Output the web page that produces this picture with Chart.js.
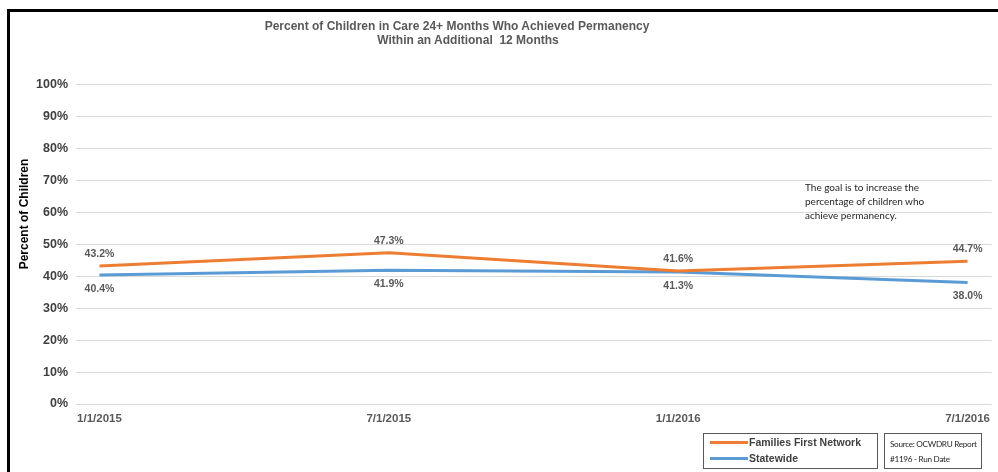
<!DOCTYPE html>
<html>
<head>
<meta charset="utf-8">
<title>Permanency Within an Additional 12 Months</title>
<script src="https://cdn.jsdelivr.net/npm/chart.js@4.4.1/dist/chart.umd.min.js"></script>
<style>
  html, body { margin: 0; padding: 0; background: #fff; }
  #wrap { position: relative; width: 998px; height: 472px; overflow: hidden; font-family: "Liberation Sans", Arial, sans-serif; }
  #frame { position: absolute; left: 7px; top: 9px; width: 1100px; height: 600px; border-left: 3px solid #000; border-top: 3px solid #000; }
  #chart { position: absolute; left: 0; top: 0; }
  .title { position: absolute; transform: translateX(-50%); white-space: nowrap; font-weight: bold; font-size: 12px; color: #595959; line-height: 14px; text-align: center; }
  #ytitle { position: absolute; left: 24px; top: 214px; transform: translate(-50%, -50%) rotate(-90deg); white-space: nowrap; font-weight: bold; font-size: 12px; color: #000; }
  #note { position: absolute; left: 805px; top: 180px; font-family: Lato, "Open Sans", sans-serif; font-size: 10px; line-height: 14px; color: #262626; }
  .box { position: absolute; top: 433px; height: 36px; border: 1px solid #595959; background: #fff; box-sizing: border-box; }
  #legend { left: 703px; width: 175px; }
  .leg-row { position: absolute; left: 6px; height: 14px; font-weight: bold; font-size: 10.5px; color: #404040; white-space: nowrap; }
  .leg-row i { display: inline-block; width: 38px; height: 3px; vertical-align: middle; margin-right: 1px; position: relative; top: -1px; }
  #source { left: 884px; width: 98px; font-family: Lato, "Open Sans", sans-serif; font-size: 8.2px; line-height: 15px; color: #262626; padding: 3px 0 0 5px; white-space: nowrap; letter-spacing: -0.3px; }
</style>
</head>
<body>
<div id="wrap">
  <canvas id="chart" width="998" height="472"></canvas>
  <div id="frame"></div>
  <div class="title" style="top:19px; left:457px">Percent of Children in Care 24+ Months Who Achieved Permanency</div>
  <div class="title" style="top:33px; left:468px">Within an Additional&nbsp; 12 Months</div>
  <div id="ytitle">Percent of Children</div>
  <div id="note">The goal is to increase the<br>percentage of children who<br>achieve permanency.</div>
  <div id="legend" class="box">
    <div class="leg-row" style="top:2px"><i style="background:#ED7D31"></i>Families First Network</div>
    <div class="leg-row" style="top:18px"><i style="background:#5B9BD5"></i>Statewide</div>
  </div>
  <div id="source" class="box">Source: OCWDRU Report<br>#1196 - Run Date</div>
</div>

<script>
// ── Data ───────────────────────────────────
var dates       = ['1/1/2015', '7/1/2015', '1/1/2016', '7/1/2016'];
var ffnValues   = [43.2, 47.3, 41.6, 44.7];
var stateValues = [40.4, 41.9, 41.3, 38.0];
var yTicks      = [0, 10, 20, 30, 40, 50, 60, 70, 80, 90, 100];

var ORANGE = '#ED7D31';
var BLUE   = '#5B9BD5';

function toPoints(arr) {
  return arr.map(function(v, i) { return { x: i, y: v }; });
}

// ── Data label plugin (no datalabels lib here) ──
var valueLabels = {
  id: 'valueLabels',
  afterDatasetsDraw: function(chart) {
    var ctx = chart.ctx;
    ctx.save();
    ctx.font = 'bold 10.5px "Liberation Sans", Arial, sans-serif';
    ctx.fillStyle = '#595959';
    ctx.textAlign = 'center';
    ctx.textBaseline = 'middle';
    chart.data.datasets.forEach(function(ds, di) {
      var meta = chart.getDatasetMeta(di);
      var dy = ds.labelAbove ? -12 : 14;
      meta.data.forEach(function(pt, i) {
        ctx.fillText(ds.data[i].y.toFixed(1) + '%', pt.x, pt.y + dy);
      });
    });
    ctx.restore();
  }
};

// ── Chart ──────────────────────────────────
new Chart(document.getElementById('chart'), {
  type: 'line',
  data: {
    datasets: [
      { label: 'Families First Network', data: toPoints(ffnValues), borderColor: ORANGE, backgroundColor: ORANGE,
        borderWidth: 3, pointRadius: 0, tension: 0, labelAbove: true },
      { label: 'Statewide', data: toPoints(stateValues), borderColor: BLUE, backgroundColor: BLUE,
        borderWidth: 3, pointRadius: 0, tension: 0, labelAbove: false }
    ]
  },
  options: {
    responsive: false,
    animation: false,
    devicePixelRatio: 1,
    layout: { padding: { left: 0, right: 1, top: 84.5, bottom: 0 } },
    plugins: {
      legend: { display: false },
      tooltip: { enabled: false }
    },
    scales: {
      x: {
        type: 'linear',
        min: -0.081,
        max: 3.082,
        afterBuildTicks: function(scale) {
          scale.ticks = dates.map(function(d, i) { return { value: i }; });
        },
        afterFit: function(scale) { scale.height = 68; },
        ticks: {
          padding: 8,
          color: '#595959',
          font: { size: 11.5, weight: 'bold', family: '"Liberation Sans", Arial, sans-serif' },
          callback: function(v) { return dates[v]; }
        },
        grid: { display: false, drawTicks: false },
        border: { display: false }
      },
      y: {
        min: 0,
        max: 100,
        afterBuildTicks: function(scale) {
          scale.ticks = yTicks.map(function(v) { return { value: v }; });
        },
        afterFit: function(scale) { scale.width = 76; },
        ticks: {
          padding: 8,
          color: '#404040',
          font: { size: 12.5, weight: 'bold', family: '"Liberation Sans", Arial, sans-serif' },
          callback: function(v) { return v + '%'; }
        },
        grid: { color: '#D9D9D9', lineWidth: 1, drawTicks: false },
        border: { display: false }
      }
    }
  },
  plugins: [valueLabels]
});
</script>
</body>
</html>
